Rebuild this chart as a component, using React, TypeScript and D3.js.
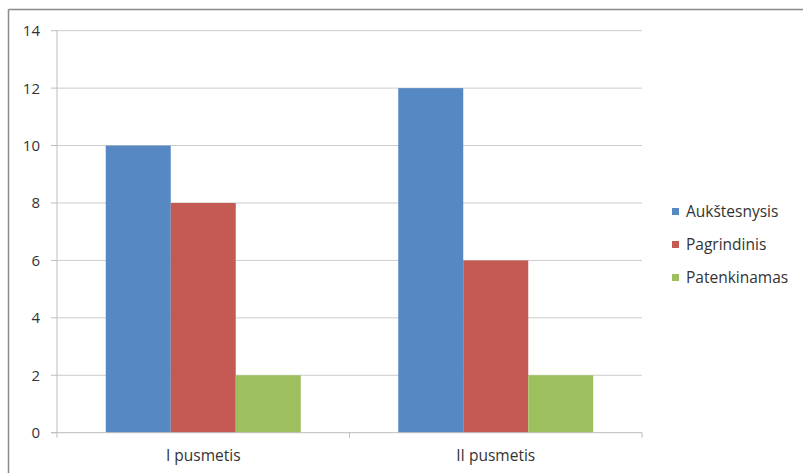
import React from "react";
import * as d3 from "d3";

const categories = ["I pusmetis", "II pusmetis"];
const seriesNames = ["Aukštesnysis", "Pagrindinis", "Patenkinamas"];
const aukstesnysis = [10, 12];
const pagrindinis = [8, 6];
const patenkinamas = [2, 2];
const yTicks = [0, 2, 4, 6, 8, 10, 12, 14];
const colors = ["#5689c3", "#c55a55", "#9ebf5d"];

const W = 803;
const H = 473;
const plot = { left: 57, right: 642, top: 30.7, bottom: 432.7 };
const FONT = "'Open Sans', sans-serif";

export default function App() {
  const values = [aukstesnysis, pagrindinis, patenkinamas];
  const x0 = d3.scaleBand().domain(categories).range([plot.left, plot.right]).paddingInner(0).paddingOuter(0);
  const bw = x0.bandwidth();
  const groupW = bw / (1 + 1.5 / 3);
  const x1 = d3.scaleBand().domain(seriesNames).range([0, groupW]).padding(0);
  const y = d3.scaleLinear().domain([0, 14]).range([plot.bottom, plot.top]);
  const boundaries = [plot.left, ...categories.map((c) => (x0(c) as number) + bw)];

  return (
    <svg width={W} height={H} style={{ position: "absolute", left: 0, top: 0, background: "#fff" }} fontFamily={FONT}>
      <rect x={0} y={0} width={W} height={H} fill="#fff" />
      {/* outer border */}
      <line x1={8.5} y1={9.5} x2={W} y2={9.5} stroke="#8a8a8a" strokeWidth={1.5} />
      <line x1={8.5} y1={9.5} x2={8.5} y2={H} stroke="#8a8a8a" strokeWidth={1.5} />
      {/* grid */}
      {yTicks.map((t) => (
        <g key={t}>
          {t > 0 && (
            <line x1={plot.left} x2={plot.right} y1={y(t)} y2={y(t)} stroke="#cccccc" strokeWidth={1} />
          )}
          <line x1={plot.left - 6} x2={plot.left} y1={y(t)} y2={y(t)} stroke="#bdbdbd" strokeWidth={1} />
          <text x={40} y={y(t)} dy="0.36em" textAnchor="end" fontSize={15} fill="#333">
            {t}
          </text>
        </g>
      ))}
      {/* bars */}
      {categories.map((c, ci) => {
        const gx = (x0(c) as number) + (bw - groupW) / 2;
        return seriesNames.map((s, si) => (
          <rect
            key={c + s}
            x={gx + (x1(s) as number)}
            y={y(values[si][ci])}
            width={x1.bandwidth()}
            height={y(0) - y(values[si][ci])}
            fill={colors[si]}
          />
        ));
      })}
      {/* axes */}
      <line x1={plot.left} x2={plot.left} y1={plot.top} y2={plot.bottom} stroke="#bdbdbd" strokeWidth={1} />
      <line x1={plot.left - 6} x2={plot.right} y1={plot.bottom} y2={plot.bottom} stroke="#bdbdbd" strokeWidth={1} />
      {boundaries.map((b, i) => (
        <line key={i} x1={b} x2={b} y1={plot.bottom} y2={plot.bottom + 5} stroke="#bdbdbd" strokeWidth={1} />
      ))}
      {categories.map((c) => (
        <text key={c} x={(x0(c) as number) + bw / 2} y={461} textAnchor="middle" fontSize={15.5} fill="#333">
          {c}
        </text>
      ))}
      {/* legend */}
      {seriesNames.map((s, i) => (
        <g key={s} transform={`translate(672, ${211.5 + i * 33})`}>
          <rect x={0} y={-3.5} width={7} height={7} fill={colors[i]} />
          <text x={14} y={0} dy="0.34em" fontSize={15.5} fill="#333">
            {s}
          </text>
        </g>
      ))}
    </svg>
  );
}
